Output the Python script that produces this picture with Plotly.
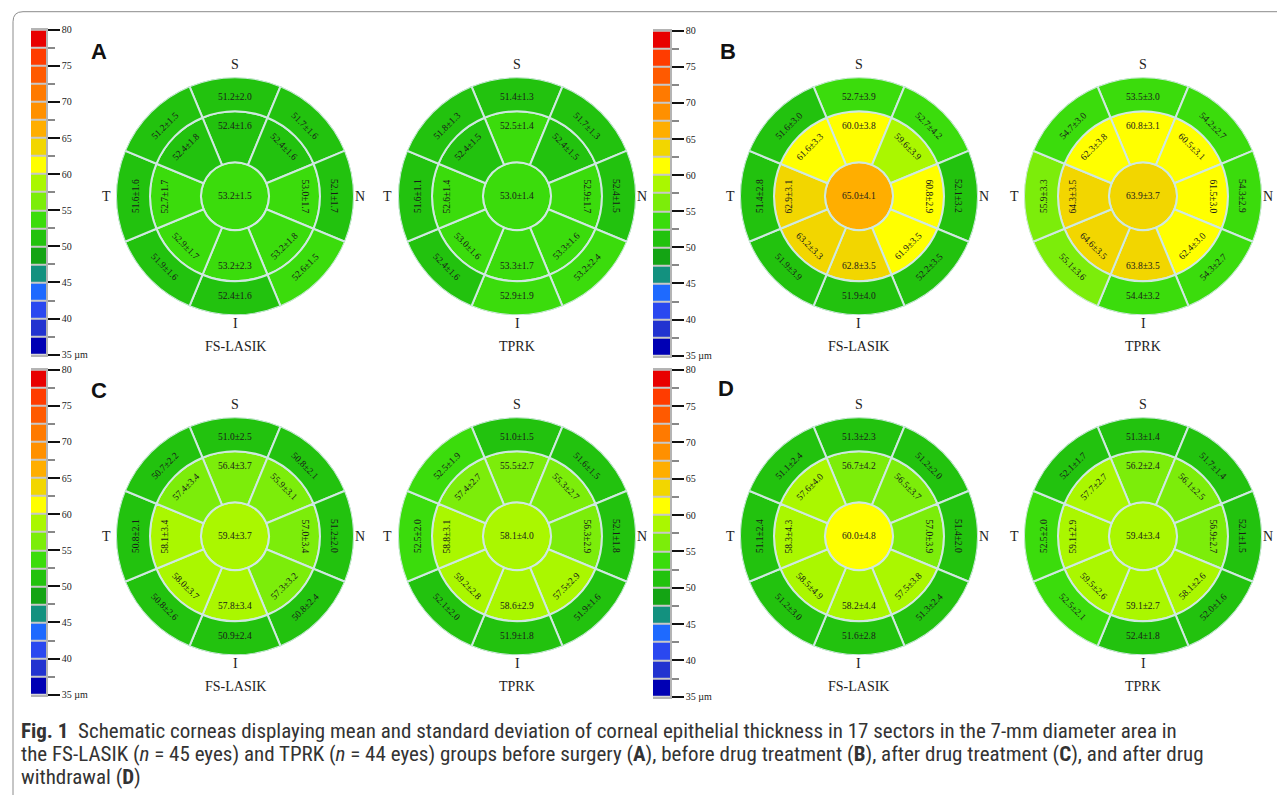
import math
import plotly.graph_objects as go

# page geometry (reference pixels -> figure), measured from earlier renders
OX = 8
OY, SY = 14.3, 0.982
FIG_W, FIG_H = 1277, 795

# ---------------- data ----------------
# sector order in every list: centre, inner ring (S, S-N, N, I-N, I, I-T, T, S-T), outer ring (same order)
sector_angles = [0, 45, 90, 135, 180, 225, 270, 315]

a_fs_mean = [53.2, 52.4, 52.4, 53.0, 53.2, 53.2, 52.9, 52.7, 52.4, 51.2, 51.7, 52.1, 52.6, 52.4, 51.9, 51.6, 51.2]
a_fs_sd = [1.5, 1.6, 1.6, 1.7, 1.8, 2.3, 1.7, 1.7, 1.8, 2.0, 1.6, 1.7, 1.5, 1.6, 1.6, 1.6, 1.5]
a_tprk_mean = [53.0, 52.5, 52.4, 52.9, 53.3, 53.3, 53.0, 52.6, 52.4, 51.4, 51.7, 52.4, 53.2, 52.9, 52.4, 51.6, 51.8]
a_tprk_sd = [1.4, 1.4, 1.5, 1.7, 1.6, 1.7, 1.6, 1.4, 1.5, 1.3, 1.3, 1.5, 2.4, 1.9, 1.6, 1.1, 1.3]
b_fs_mean = [65.0, 60.0, 59.6, 60.8, 61.9, 62.8, 63.2, 62.9, 61.6, 52.7, 52.7, 52.1, 52.2, 51.9, 51.9, 51.4, 51.6]
b_fs_sd = [4.1, 3.8, 3.9, 2.9, 3.5, 3.5, 3.3, 3.1, 3.3, 3.9, 4.2, 3.2, 3.5, 4.0, 3.9, 2.8, 3.0]
b_tprk_mean = [63.9, 60.8, 60.5, 61.5, 62.4, 63.8, 64.6, 64.3, 62.3, 53.5, 54.2, 54.3, 54.3, 54.4, 55.1, 55.9, 54.7]
b_tprk_sd = [3.7, 3.1, 3.1, 3.0, 3.0, 3.5, 3.5, 3.5, 3.8, 3.0, 2.7, 2.9, 2.7, 3.2, 3.6, 3.3, 3.0]
c_fs_mean = [59.4, 56.4, 55.9, 57.0, 57.3, 57.8, 58.0, 58.1, 57.4, 51.0, 50.8, 51.2, 50.8, 50.9, 50.8, 50.8, 50.7]
c_fs_sd = [3.7, 3.7, 3.1, 3.4, 3.2, 3.4, 3.7, 3.4, 3.4, 2.5, 2.1, 2.0, 2.4, 2.4, 2.6, 2.1, 2.2]
c_tprk_mean = [58.1, 55.5, 55.3, 56.3, 57.5, 58.6, 59.2, 58.8, 57.4, 51.0, 51.6, 52.1, 51.9, 51.9, 52.1, 52.5, 52.5]
c_tprk_sd = [4.0, 2.7, 2.7, 2.9, 2.9, 2.9, 2.8, 3.1, 2.7, 1.5, 1.5, 1.8, 1.6, 1.8, 2.0, 2.0, 1.9]
d_fs_mean = [60.0, 56.7, 56.5, 57.0, 57.5, 58.2, 58.5, 58.3, 57.6, 51.3, 51.2, 51.4, 51.3, 51.6, 51.2, 51.1, 51.1]
d_fs_sd = [4.8, 4.2, 3.7, 3.9, 3.8, 4.4, 4.9, 4.3, 4.0, 2.3, 2.0, 2.0, 2.4, 2.8, 3.0, 2.4, 2.4]
d_tprk_mean = [59.4, 56.2, 56.1, 56.9, 58.1, 59.1, 59.5, 59.1, 57.7, 51.3, 51.7, 52.1, 52.0, 52.4, 52.5, 52.5, 52.1]
d_tprk_sd = [3.4, 2.4, 2.5, 2.7, 2.6, 2.7, 2.6, 2.9, 2.7, 1.4, 1.4, 1.5, 1.6, 1.8, 2.1, 2.0, 1.7]

group_labels = ["FS-LASIK", "TPRK"]
panel_letters = ["A", "B", "C", "D"]
compass = {"S": 0, "N": 90, "I": 180, "T": 270}

scale_min, scale_max, scale_step = 35, 80, 2.5
scale_ticks = [35, 40, 45, 50, 55, 60, 65, 70, 75, 80]
scale_ticktext = ["35 µm", "40", "45", "50", "55", "60", "65", "70", "75", "80"]
scale_minor = [37.5, 42.5, 47.5, 52.5, 57.5, 62.5, 67.5, 72.5, 77.5]
cell_colors = ["#0000b4", "#2233d0", "#2a48f0", "#1e6aff", "#13917f", "#14a414",
               "#22c20e", "#3bdc0c", "#7ced0a", "#aaf700", "#ffff00", "#f2d600",
               "#ffae00", "#ff9000", "#ff7a00", "#ff5a00", "#ff3c00", "#e80000"]

# ---------------- styling / layout ----------------
n_cells = len(cell_colors)
colorscale = []
for i, c in enumerate(cell_colors):
    colorscale.append([i / n_cells, c])
    colorscale.append([(i + 1) / n_cells, c])

R_PX = 115          # wanted outer radius in px
R_DOM = 119         # half size of the polar domain that gives that radius
R_MAX = 3.5         # 7-mm diameter
col_x = [235, 517, 859, 1143]
row_y = [196, 535]

maps = [
    (0, 0, a_fs_mean, a_fs_sd), (0, 1, a_tprk_mean, a_tprk_sd),
    (0, 2, b_fs_mean, b_fs_sd), (0, 3, b_tprk_mean, b_tprk_sd),
    (1, 0, c_fs_mean, c_fs_sd), (1, 1, c_tprk_mean, c_tprk_sd),
    (1, 2, d_fs_mean, d_fs_sd), (1, 3, d_tprk_mean, d_tprk_sd),
]

serif = "Liberation Serif, Times New Roman, serif"
sans = "Liberation Sans, Arial, sans-serif"

fig = go.Figure()
annotations = []
layout_upd = {}


def px2x(px):
    return (px - OX) / FIG_W


def py2y(py):
    return 1 - (py - OY) / (SY * FIG_H)


def to_paper(px, py):
    return px2x(px), py2y(py)


def polar_pt(cx, cy, r, ang):
    a = math.radians(ang)
    return cx + r * R_PX / R_MAX * math.sin(a), cy - r * R_PX / R_MAX * math.cos(a)


def text_angle(ang):
    a = ang % 360
    if 90 < a < 270:
        a -= 180
    elif a >= 270:
        a -= 360
    return a


for k, (row, col, mean, sd) in enumerate(maps):
    cx, cy = col_x[col], row_y[row]
    pname = "polar" if k == 0 else f"polar{k + 1}"
    theta = [0] + sector_angles + sector_angles
    width = [360] + [45] * 8 + [45] * 8
    base = [0] + [1] * 8 + [2.5] * 8
    rr = [1] + [1.5] * 8 + [1.0] * 8
    fig.add_trace(go.Barpolar(
        r=rr, base=base, theta=theta, width=width,
        marker=dict(color=mean, colorscale=colorscale, cmin=scale_min - 0.001,
                    cmax=scale_max - 0.001, line=dict(color="#cfe8e0", width=2)),
        showlegend=False, hoverinfo="skip", subplot=pname,
    ))
    layout_upd[pname] = dict(
        domain=dict(x=[px2x(cx - R_DOM), px2x(cx + R_DOM)],
                    y=[py2y(cy + R_DOM), py2y(cy - R_DOM)]),
        bgcolor="white",
        radialaxis=dict(range=[0, R_MAX], visible=False),
        angularaxis=dict(rotation=90, direction="clockwise", visible=False),
    )
    # value labels
    for i in range(17):
        if i == 0:
            px, py, ang = cx, cy, 0
        else:
            ang = theta[i]
            rad = 2.12 if i <= 8 else 3.02
            px, py = polar_pt(cx, cy, rad, ang)
        x, y = to_paper(px, py)
        annotations.append(dict(
            x=x, y=y, xref="paper", yref="paper", showarrow=False,
            text=f"{mean[i]:.1f}±{sd[i]:.1f}", textangle=text_angle(ang),
            font=dict(family=serif, size=9.5, color="#1a1a1a"),
            xanchor="center", yanchor="middle"))
    # compass labels
    for lab, ang in compass.items():
        dist = {"S": 131, "N": 125, "I": 127, "T": 129}[lab]
        px = cx + dist * math.sin(math.radians(ang))
        py = cy - dist * math.cos(math.radians(ang))
        x, y = to_paper(px, py)
        annotations.append(dict(x=x, y=y, xref="paper", yref="paper", showarrow=False,
                                text=lab, font=dict(family=serif, size=14, color="#222"),
                                xanchor="center", yanchor="middle"))
    x, y = to_paper(cx, cy + 150)
    annotations.append(dict(x=x, y=y, xref="paper", yref="paper", showarrow=False,
                            text=group_labels[col % 2],
                            font=dict(family=serif, size=14, color="#222"),
                            xanchor="center", yanchor="middle"))

# panel letters
letter_pos = [(99, 52), (728, 52), (99, 390), (726, 388)]
for lt, (px, py) in zip(panel_letters, letter_pos):
    x, y = to_paper(px, py)
    annotations.append(dict(x=x, y=y, xref="paper", yref="paper", showarrow=False,
                            text=f"<b>{lt}</b>", font=dict(family=sans, size=22, color="#111"),
                            xanchor="center", yanchor="middle"))

# colour bars
cb_boxes = [(31, 46, 30, 354), (653, 670, 31, 355), (31, 46, 369, 693), (653, 670, 369, 695)]
cell_mid = [scale_min + scale_step * (i + 0.5) for i in range(n_cells)]
for j, (x0, x1, y0, y1) in enumerate(cb_boxes):
    xa = "x" if j == 0 else f"x{j + 1}"
    ya = "y" if j == 0 else f"y{j + 1}"
    fig.add_trace(go.Heatmap(
        z=[[v] for v in cell_mid], y=cell_mid, x=[0], colorscale=colorscale,
        zmin=scale_min, zmax=scale_max, showscale=False, ygap=2, hoverinfo="skip",
        xaxis=xa, yaxis=ya))
    xkey = "xaxis" if j == 0 else f"xaxis{j + 1}"
    ykey = "yaxis" if j == 0 else f"yaxis{j + 1}"
    layout_upd[xkey] = dict(domain=[px2x(x0), px2x(x1)], range=[-0.5, 0.5], showgrid=False,
                            zeroline=False, showticklabels=False, ticks="",
                            showline=True, mirror=True, linecolor="#b4b4b4", linewidth=1.5,
                            fixedrange=True, anchor=ya)
    layout_upd[ykey] = dict(domain=[py2y(y1), py2y(y0)], range=[scale_min, scale_max],
                            side="right", anchor=xa, showgrid=False, zeroline=False,
                            tickmode="array", tickvals=scale_ticks, ticktext=scale_ticktext,
                            ticks="outside", ticklen=12, tickwidth=2, tickcolor="#111",
                            tickfont=dict(family=serif, size=10, color="#222"),
                            minor=dict(tickmode="array", tickvals=scale_minor, ticks="outside",
                                       ticklen=7, tickwidth=1.5, tickcolor="#888"),
                            showline=True, linecolor="#b4b4b4", linewidth=1.5,
                            fixedrange=True)

# caption
cap_lines = [
    "<b>Fig. 1</b>  Schematic corneas displaying mean and standard deviation of corneal epithelial "
    "thickness in 17 sectors in the 7-mm diameter area in",
    "the FS-LASIK (<i>n</i> = 45 eyes) and TPRK (<i>n</i> = 44 eyes) groups before surgery (<b>A</b>), "
    "before drug treatment (<b>B</b>), after drug treatment (<b>C</b>), and after drug",
    "withdrawal (<b>D</b>)",
]
cap_y = [729, 752, 775]
for t, py in zip(cap_lines, cap_y):
    x, y = to_paper(19, py)
    annotations.append(dict(x=x, y=y, xref="paper", yref="paper", showarrow=False, text=t,
                            font=dict(family="Roboto Condensed, Liberation Sans Narrow, sans-serif",
                                      size=21, color="#333"),
                            xanchor="left", yanchor="middle"))

# frame
frame_path = (f"M {px2x(1300)} {py2y(12)} L {px2x(23)} {py2y(12)} "
              f"Q {px2x(13)} {py2y(12)} {px2x(13)} {py2y(22)} L {px2x(13)} {py2y(800)}")
shapes = [dict(type="path", xref="paper", yref="paper", path=frame_path,
               line=dict(color="#8c8c8c", width=1))]

fig.update_layout(
    width=FIG_W, height=FIG_H, margin=dict(l=0, r=0, t=0, b=0),
    paper_bgcolor="white", plot_bgcolor="#c8c8c8",
    annotations=annotations, shapes=shapes, showlegend=False,
    **layout_upd,
)

fig.write_html("out.html")
